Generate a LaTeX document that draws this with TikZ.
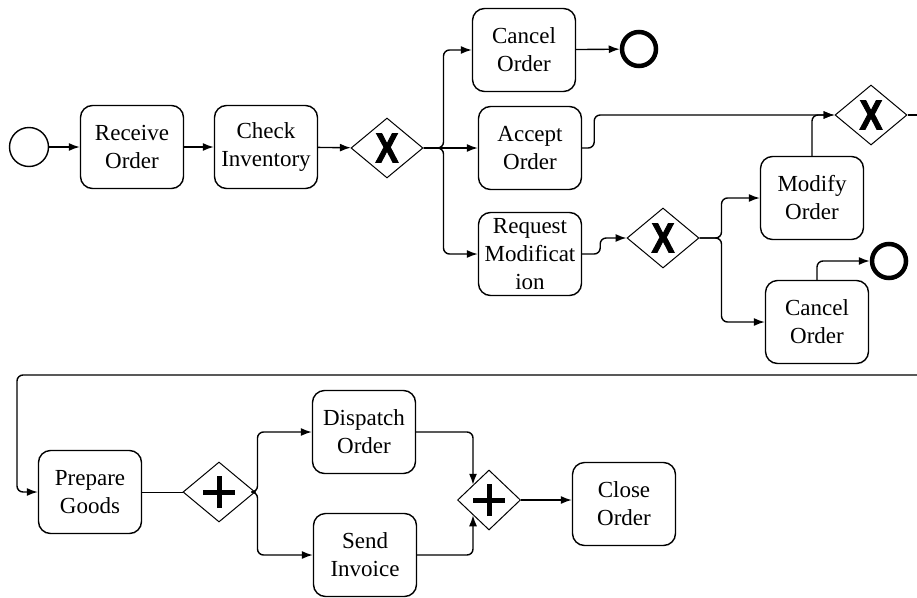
\documentclass[tikz,border=0pt]{standalone}
\usepackage{fontspec}
\setmainfont{Liberation Serif}
\setsansfont{Liberation Sans}
\newfontfamily\gatefont[BoldFeatures={FakeBold=2.5}]{Liberation Sans}
\usetikzlibrary{arrows.meta, shapes.geometric}

\begin{document}
\begin{tikzpicture}[
  x=1pt, y=-1pt, line width=1.4pt,
  font=\fontsize{23}{28}\selectfont,
  > = {Latex[length=11pt,width=8pt]},
  task/.style = {draw, rounded corners=12pt, minimum width=103pt, minimum height=83pt, inner sep=1pt, align=center},
  gate/.style = {draw, diamond, line width=1pt, minimum width=72pt, minimum height=60pt, inner sep=0pt,
    font=\fontsize{42}{42}\selectfont\gatefont\bfseries},
  plusgate/.style = {gate, path picture={
      \draw[line width=5pt] (path picture bounding box.center) ++(-16pt,0) -- ++(32pt,0);
      \draw[line width=5pt] (path picture bounding box.center) ++(0,-16pt) -- ++(0,32pt);}},
  startev/.style = {draw, circle, minimum size=39pt, inner sep=0pt},
  endev/.style = {draw, circle, line width=4.5pt, minimum size=34pt, inner sep=0pt},
  flow/.style = {->, rounded corners=6pt}
  ]
  \useasboundingbox (0,0) rectangle (917,597);
  % upper part
  \node[startev] (@start) at (29,147) {};
  \node[task] (@receive) at (132,147) {Receive\\Order};
  \node[task] (@check) at (266,147) {Check\\Inventory};
  \node[gate] (@xone) at (387,148) {\scalebox{0.82}[1]{X}};
  \node[task] (@cancel) at (524,50) {Cancel\\Order};
  \node[endev] (@endone) at (639,49) {};
  \node[task] (@accept) at (530,148) {Accept\\Order};
  \node[task] (@request) at (530,254) {Request\\Modificat\\ion};
  \node[gate] (@xtwo) at (663,238) {\scalebox{0.82}[1]{X}};
  \node[task] (@modify) at (812,198) {Modify\\Order};
  \node[task] (@canceltwo) at (817,322) {Cancel\\Order};
  \node[endev] (@endtwo) at (889,261) {};
  \node[gate] (@xthree) at (871,115) {\scalebox{0.82}[1]{X}};
  \coordinate (@exit) at (917,115);
  \coordinate (@entry) at (917,375);
  % lower part
  \node[task] (@prepare) at (90,492) {Prepare\\Goods};
  \node[plusgate] (@pone) at (219,492) {};
  \node[task] (@dispatch) at (364,432) {Dispatch\\Order};
  \node[task] (@send) at (365,555) {Send\\Invoice};
  \node[plusgate, minimum width=63pt] (@ptwo) at (489,500) {};
  \node[task] (@close) at (624,504) {Close\\Order};

  \draw[flow] (@start) -- (@receive);
  \draw[flow] (@receive) -- (@check);
  \draw[flow] (@check) -- (@xone);
  \draw[flow] (@xone.east) -- ++(20,0) |- (@cancel.west);
  \draw[flow] (@xone.east) -- (@xone.east -| @accept.west);
  \draw[flow] (@xone.east) -- ++(20,0) |- (@request.west);
  \draw[flow] (@cancel) -- (@endone);
  \draw[flow] (@accept.east) -- ++(12,0) |- (@xthree.west);
  \draw[flow] (@request.east) -- ++(18,0) |- (@xtwo.west);
  \draw[flow] (@xtwo.east) -- ++(22,0) |- (@modify.west);
  \draw[flow] (@xtwo.east) -- ++(22,0) |- (@canceltwo.west);
  \draw[flow] (@modify.north) |- (@xthree.west);
  \draw[flow] (@canceltwo.north) |- (@endtwo.west);
  \draw (@xthree.east) -- (@exit);
  \draw[flow] (@entry) -- ++(-900,0) |- (@prepare.west);
  \draw[line width=1pt] (@prepare) -- (@pone);
  \draw[flow] (@pone.east) -- ++(2,0) |- (@dispatch.west);
  \draw[flow] (@pone.east) -- ++(2,0) |- (@send.west);
  \draw[flow] (@dispatch.east) -| (@ptwo.north west);
  \draw[flow] (@send.east) -| (@ptwo.south west);
  \draw[flow] (@ptwo.east) -- (@ptwo.east -| @close.west);
\end{tikzpicture}
\end{document}
